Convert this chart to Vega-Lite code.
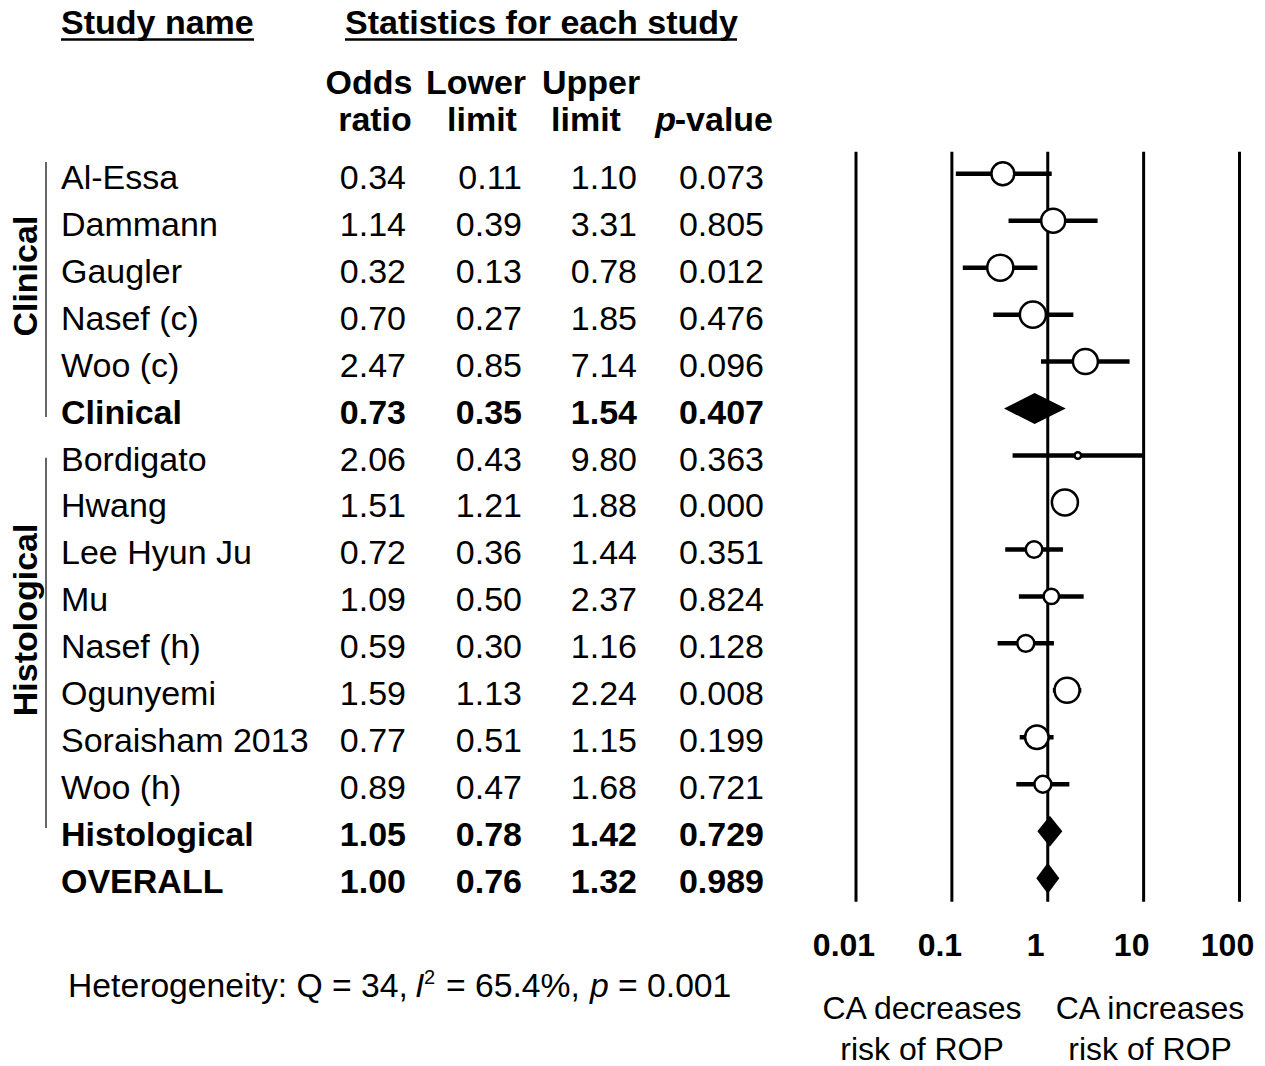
{
  "$schema": "https://vega.github.io/schema/vega-lite/v6.json",
  "width": 1265,
  "height": 1066,
  "autosize": "none",
  "padding": 0,
  "background": "white",
  "config": {"view": {"stroke": null}, "font": "Liberation Sans", "text": {"font": "Liberation Sans", "color": "black"}},
  "datasets": {
    "studies": [
      {"row": 1, "name": "Al-Essa", "group": "Clinical", "type": "study", "or": 0.34, "lo": 0.11, "hi": 1.10, "p": 0.073, "weight": 8.6},
      {"row": 2, "name": "Dammann", "group": "Clinical", "type": "study", "or": 1.14, "lo": 0.39, "hi": 3.31, "p": 0.805, "weight": 9.5},
      {"row": 3, "name": "Gaugler", "group": "Clinical", "type": "study", "or": 0.32, "lo": 0.13, "hi": 0.78, "p": 0.012, "weight": 11.2},
      {"row": 4, "name": "Nasef (c)", "group": "Clinical", "type": "study", "or": 0.70, "lo": 0.27, "hi": 1.85, "p": 0.476, "weight": 11.2},
      {"row": 5, "name": "Woo (c)", "group": "Clinical", "type": "study", "or": 2.47, "lo": 0.85, "hi": 7.14, "p": 0.096, "weight": 10.3},
      {"row": 6, "name": "Clinical", "group": "Clinical", "type": "subtotal", "or": 0.73, "lo": 0.35, "hi": 1.54, "p": 0.407},
      {"row": 7, "name": "Bordigato", "group": "Histological", "type": "study", "or": 2.06, "lo": 0.43, "hi": 9.80, "p": 0.363, "weight": 0.7},
      {"row": 8, "name": "Hwang", "group": "Histological", "type": "study", "or": 1.51, "lo": 1.21, "hi": 1.88, "p": 0.000, "weight": 11.2},
      {"row": 9, "name": "Lee Hyun Ju", "group": "Histological", "type": "study", "or": 0.72, "lo": 0.36, "hi": 1.44, "p": 0.351, "weight": 4.5},
      {"row": 10, "name": "Mu", "group": "Histological", "type": "study", "or": 1.09, "lo": 0.50, "hi": 2.37, "p": 0.824, "weight": 3.9},
      {"row": 11, "name": "Nasef (h)", "group": "Histological", "type": "study", "or": 0.59, "lo": 0.30, "hi": 1.16, "p": 0.128, "weight": 4.7},
      {"row": 12, "name": "Ogunyemi", "group": "Histological", "type": "study", "or": 1.59, "lo": 1.13, "hi": 2.24, "p": 0.008, "weight": 10.3},
      {"row": 13, "name": "Soraisham 2013", "group": "Histological", "type": "study", "or": 0.77, "lo": 0.51, "hi": 1.15, "p": 0.199, "weight": 9.1},
      {"row": 14, "name": "Woo (h)", "group": "Histological", "type": "study", "or": 0.89, "lo": 0.47, "hi": 1.68, "p": 0.721, "weight": 4.7},
      {"row": 15, "name": "Histological", "group": "Histological", "type": "subtotal", "or": 1.05, "lo": 0.78, "hi": 1.42, "p": 0.729},
      {"row": 16, "name": "OVERALL", "group": "All", "type": "overall", "or": 1.00, "lo": 0.76, "hi": 1.32, "p": 0.989}
    ],
    "ticks": [
      {"value": 0.01, "label": "0.01"},
      {"value": 0.1, "label": "0.1"},
      {"value": 1, "label": "1"},
      {"value": 10, "label": "10"},
      {"value": 100, "label": "100"}
    ]
  },
  "resolve": {"scale": {"x": "independent"}},
  "layer": [
    {
      "layer": [
        {
          "data": {"name": "studies"},
          "transform": [{"filter": "datum.type === 'study'"}],
          "mark": {"type": "text", "align": "left", "baseline": "middle", "dy": 5, "fontSize": 34},
          "encoding": {
            "x": {"datum": 61, "type": "quantitative", "scale": {"type": "linear", "domain": [0, 1265], "range": [0, 1265], "nice": false, "zero": false}, "axis": null},
            "y": {"field": "row", "type": "quantitative", "scale": {"domain": [-2.7, 20], "range": [0, 1066], "nice": false, "zero": false}, "axis": null},
            "text": {"field": "name"}
          }
        },
        {
          "data": {"name": "studies"},
          "transform": [{"filter": "datum.type === 'study'"}],
          "mark": {"type": "text", "align": "right", "baseline": "middle", "dy": 5, "fontSize": 34},
          "encoding": {
            "x": {"datum": 406, "type": "quantitative", "scale": {"type": "linear", "domain": [0, 1265], "range": [0, 1265], "nice": false, "zero": false}, "axis": null},
            "y": {"field": "row", "type": "quantitative", "scale": {"domain": [-2.7, 20], "range": [0, 1066], "nice": false, "zero": false}, "axis": null},
            "text": {"field": "or", "format": ".2f"}
          }
        },
        {
          "data": {"name": "studies"},
          "transform": [{"filter": "datum.type === 'study'"}],
          "mark": {"type": "text", "align": "right", "baseline": "middle", "dy": 5, "fontSize": 34},
          "encoding": {
            "x": {"datum": 522, "type": "quantitative", "scale": {"type": "linear", "domain": [0, 1265], "range": [0, 1265], "nice": false, "zero": false}, "axis": null},
            "y": {"field": "row", "type": "quantitative", "scale": {"domain": [-2.7, 20], "range": [0, 1066], "nice": false, "zero": false}, "axis": null},
            "text": {"field": "lo", "format": ".2f"}
          }
        },
        {
          "data": {"name": "studies"},
          "transform": [{"filter": "datum.type === 'study'"}],
          "mark": {"type": "text", "align": "right", "baseline": "middle", "dy": 5, "fontSize": 34},
          "encoding": {
            "x": {"datum": 637, "type": "quantitative", "scale": {"type": "linear", "domain": [0, 1265], "range": [0, 1265], "nice": false, "zero": false}, "axis": null},
            "y": {"field": "row", "type": "quantitative", "scale": {"domain": [-2.7, 20], "range": [0, 1066], "nice": false, "zero": false}, "axis": null},
            "text": {"field": "hi", "format": ".2f"}
          }
        },
        {
          "data": {"name": "studies"},
          "transform": [{"filter": "datum.type === 'study'"}],
          "mark": {"type": "text", "align": "right", "baseline": "middle", "dy": 5, "fontSize": 34},
          "encoding": {
            "x": {"datum": 764, "type": "quantitative", "scale": {"type": "linear", "domain": [0, 1265], "range": [0, 1265], "nice": false, "zero": false}, "axis": null},
            "y": {"field": "row", "type": "quantitative", "scale": {"domain": [-2.7, 20], "range": [0, 1066], "nice": false, "zero": false}, "axis": null},
            "text": {"field": "p", "format": ".3f"}
          }
        },
        {
          "data": {"name": "studies"},
          "transform": [{"filter": "datum.type !== 'study'"}],
          "mark": {"type": "text", "align": "left", "baseline": "middle", "dy": 5, "fontSize": 34, "fontWeight": "bold"},
          "encoding": {
            "x": {"datum": 61, "type": "quantitative", "scale": {"type": "linear", "domain": [0, 1265], "range": [0, 1265], "nice": false, "zero": false}, "axis": null},
            "y": {"field": "row", "type": "quantitative", "scale": {"domain": [-2.7, 20], "range": [0, 1066], "nice": false, "zero": false}, "axis": null},
            "text": {"field": "name"}
          }
        },
        {
          "data": {"name": "studies"},
          "transform": [{"filter": "datum.type !== 'study'"}],
          "mark": {"type": "text", "align": "right", "baseline": "middle", "dy": 5, "fontSize": 34, "fontWeight": "bold"},
          "encoding": {
            "x": {"datum": 406, "type": "quantitative", "scale": {"type": "linear", "domain": [0, 1265], "range": [0, 1265], "nice": false, "zero": false}, "axis": null},
            "y": {"field": "row", "type": "quantitative", "scale": {"domain": [-2.7, 20], "range": [0, 1066], "nice": false, "zero": false}, "axis": null},
            "text": {"field": "or", "format": ".2f"}
          }
        },
        {
          "data": {"name": "studies"},
          "transform": [{"filter": "datum.type !== 'study'"}],
          "mark": {"type": "text", "align": "right", "baseline": "middle", "dy": 5, "fontSize": 34, "fontWeight": "bold"},
          "encoding": {
            "x": {"datum": 522, "type": "quantitative", "scale": {"type": "linear", "domain": [0, 1265], "range": [0, 1265], "nice": false, "zero": false}, "axis": null},
            "y": {"field": "row", "type": "quantitative", "scale": {"domain": [-2.7, 20], "range": [0, 1066], "nice": false, "zero": false}, "axis": null},
            "text": {"field": "lo", "format": ".2f"}
          }
        },
        {
          "data": {"name": "studies"},
          "transform": [{"filter": "datum.type !== 'study'"}],
          "mark": {"type": "text", "align": "right", "baseline": "middle", "dy": 5, "fontSize": 34, "fontWeight": "bold"},
          "encoding": {
            "x": {"datum": 637, "type": "quantitative", "scale": {"type": "linear", "domain": [0, 1265], "range": [0, 1265], "nice": false, "zero": false}, "axis": null},
            "y": {"field": "row", "type": "quantitative", "scale": {"domain": [-2.7, 20], "range": [0, 1066], "nice": false, "zero": false}, "axis": null},
            "text": {"field": "hi", "format": ".2f"}
          }
        },
        {
          "data": {"name": "studies"},
          "transform": [{"filter": "datum.type !== 'study'"}],
          "mark": {"type": "text", "align": "right", "baseline": "middle", "dy": 5, "fontSize": 34, "fontWeight": "bold"},
          "encoding": {
            "x": {"datum": 764, "type": "quantitative", "scale": {"type": "linear", "domain": [0, 1265], "range": [0, 1265], "nice": false, "zero": false}, "axis": null},
            "y": {"field": "row", "type": "quantitative", "scale": {"domain": [-2.7, 20], "range": [0, 1066], "nice": false, "zero": false}, "axis": null},
            "text": {"field": "p", "format": ".3f"}
          }
        },
        {
          "data": {"values": [{}]},
          "mark": {"type": "text", "text": "Study name", "align": "left", "baseline": "middle", "fontSize": 34, "fontWeight": "bold"},
          "encoding": {
            "x": {"datum": 61, "type": "quantitative", "scale": {"type": "linear", "domain": [0, 1265], "range": [0, 1265], "nice": false, "zero": false}, "axis": null},
            "y": {"datum": -2.19, "type": "quantitative", "scale": {"domain": [-2.7, 20], "range": [0, 1066], "nice": false, "zero": false}, "axis": null}
          }
        },
        {
          "data": {"values": [{}]},
          "mark": {"type": "text", "text": "Statistics for each study", "align": "left", "baseline": "middle", "fontSize": 34, "fontWeight": "bold"},
          "encoding": {
            "x": {"datum": 345, "type": "quantitative", "scale": {"type": "linear", "domain": [0, 1265], "range": [0, 1265], "nice": false, "zero": false}, "axis": null},
            "y": {"datum": -2.19, "type": "quantitative", "scale": {"domain": [-2.7, 20], "range": [0, 1066], "nice": false, "zero": false}, "axis": null}
          }
        },
        {
          "data": {"values": [{}]},
          "mark": {"type": "rule", "strokeWidth": 2.5, "color": "black"},
          "encoding": {
            "x": {"datum": 61, "type": "quantitative", "scale": {"type": "linear", "domain": [0, 1265], "range": [0, 1265], "nice": false, "zero": false}, "axis": null},
            "x2": {"datum": 254},
            "y": {"datum": -1.86, "type": "quantitative", "scale": {"domain": [-2.7, 20], "range": [0, 1066], "nice": false, "zero": false}, "axis": null}
          }
        },
        {
          "data": {"values": [{}]},
          "mark": {"type": "rule", "strokeWidth": 2.5, "color": "black"},
          "encoding": {
            "x": {"datum": 345, "type": "quantitative", "scale": {"type": "linear", "domain": [0, 1265], "range": [0, 1265], "nice": false, "zero": false}, "axis": null},
            "x2": {"datum": 737},
            "y": {"datum": -1.86, "type": "quantitative", "scale": {"domain": [-2.7, 20], "range": [0, 1066], "nice": false, "zero": false}, "axis": null}
          }
        },
        {
          "data": {"values": [{}]},
          "mark": {"type": "text", "text": "Odds", "align": "center", "baseline": "middle", "fontSize": 34, "fontWeight": "bold"},
          "encoding": {
            "x": {"datum": 369, "type": "quantitative", "scale": {"type": "linear", "domain": [0, 1265], "range": [0, 1265], "nice": false, "zero": false}, "axis": null},
            "y": {"datum": -0.91, "type": "quantitative", "scale": {"domain": [-2.7, 20], "range": [0, 1066], "nice": false, "zero": false}, "axis": null}
          }
        },
        {
          "data": {"values": [{}]},
          "mark": {"type": "text", "text": "ratio", "align": "center", "baseline": "middle", "fontSize": 34, "fontWeight": "bold"},
          "encoding": {
            "x": {"datum": 375, "type": "quantitative", "scale": {"type": "linear", "domain": [0, 1265], "range": [0, 1265], "nice": false, "zero": false}, "axis": null},
            "y": {"datum": -0.12, "type": "quantitative", "scale": {"domain": [-2.7, 20], "range": [0, 1066], "nice": false, "zero": false}, "axis": null}
          }
        },
        {
          "data": {"values": [{}]},
          "mark": {"type": "text", "text": "Lower", "align": "center", "baseline": "middle", "fontSize": 34, "fontWeight": "bold"},
          "encoding": {
            "x": {"datum": 476, "type": "quantitative", "scale": {"type": "linear", "domain": [0, 1265], "range": [0, 1265], "nice": false, "zero": false}, "axis": null},
            "y": {"datum": -0.91, "type": "quantitative", "scale": {"domain": [-2.7, 20], "range": [0, 1066], "nice": false, "zero": false}, "axis": null}
          }
        },
        {
          "data": {"values": [{}]},
          "mark": {"type": "text", "text": "limit", "align": "center", "baseline": "middle", "fontSize": 34, "fontWeight": "bold"},
          "encoding": {
            "x": {"datum": 482, "type": "quantitative", "scale": {"type": "linear", "domain": [0, 1265], "range": [0, 1265], "nice": false, "zero": false}, "axis": null},
            "y": {"datum": -0.12, "type": "quantitative", "scale": {"domain": [-2.7, 20], "range": [0, 1066], "nice": false, "zero": false}, "axis": null}
          }
        },
        {
          "data": {"values": [{}]},
          "mark": {"type": "text", "text": "Upper", "align": "center", "baseline": "middle", "fontSize": 34, "fontWeight": "bold"},
          "encoding": {
            "x": {"datum": 591, "type": "quantitative", "scale": {"type": "linear", "domain": [0, 1265], "range": [0, 1265], "nice": false, "zero": false}, "axis": null},
            "y": {"datum": -0.91, "type": "quantitative", "scale": {"domain": [-2.7, 20], "range": [0, 1066], "nice": false, "zero": false}, "axis": null}
          }
        },
        {
          "data": {"values": [{}]},
          "mark": {"type": "text", "text": "limit", "align": "center", "baseline": "middle", "fontSize": 34, "fontWeight": "bold"},
          "encoding": {
            "x": {"datum": 586, "type": "quantitative", "scale": {"type": "linear", "domain": [0, 1265], "range": [0, 1265], "nice": false, "zero": false}, "axis": null},
            "y": {"datum": -0.12, "type": "quantitative", "scale": {"domain": [-2.7, 20], "range": [0, 1066], "nice": false, "zero": false}, "axis": null}
          }
        },
        {
          "data": {"values": [{}]},
          "mark": {"type": "text", "text": "p", "align": "right", "baseline": "middle", "fontSize": 34, "fontWeight": "bold", "fontStyle": "italic"},
          "encoding": {
            "x": {"datum": 676, "type": "quantitative", "scale": {"type": "linear", "domain": [0, 1265], "range": [0, 1265], "nice": false, "zero": false}, "axis": null},
            "y": {"datum": -0.12, "type": "quantitative", "scale": {"domain": [-2.7, 20], "range": [0, 1066], "nice": false, "zero": false}, "axis": null}
          }
        },
        {
          "data": {"values": [{}]},
          "mark": {"type": "text", "text": "-value", "align": "right", "baseline": "middle", "fontSize": 34, "fontWeight": "bold"},
          "encoding": {
            "x": {"datum": 773, "type": "quantitative", "scale": {"type": "linear", "domain": [0, 1265], "range": [0, 1265], "nice": false, "zero": false}, "axis": null},
            "y": {"datum": -0.12, "type": "quantitative", "scale": {"domain": [-2.7, 20], "range": [0, 1066], "nice": false, "zero": false}, "axis": null}
          }
        },
        {
          "data": {"values": [{}]},
          "mark": {"type": "text", "text": "Clinical", "align": "center", "baseline": "middle", "angle": 270, "fontSize": 34, "fontWeight": "bold"},
          "encoding": {
            "x": {"datum": 27, "type": "quantitative", "scale": {"type": "linear", "domain": [0, 1265], "range": [0, 1265], "nice": false, "zero": false}, "axis": null},
            "y": {"datum": 3.18, "type": "quantitative", "scale": {"domain": [-2.7, 20], "range": [0, 1066], "nice": false, "zero": false}, "axis": null}
          }
        },
        {
          "data": {"values": [{}]},
          "mark": {"type": "text", "text": "Histological", "align": "center", "baseline": "middle", "angle": 270, "fontSize": 34, "fontWeight": "bold"},
          "encoding": {
            "x": {"datum": 27, "type": "quantitative", "scale": {"type": "linear", "domain": [0, 1265], "range": [0, 1265], "nice": false, "zero": false}, "axis": null},
            "y": {"datum": 10.5, "type": "quantitative", "scale": {"domain": [-2.7, 20], "range": [0, 1066], "nice": false, "zero": false}, "axis": null}
          }
        },
        {
          "data": {"values": [{}]},
          "mark": {"type": "rule", "strokeWidth": 1.5, "color": "#333333"},
          "encoding": {
            "x": {"datum": 46, "type": "quantitative", "scale": {"type": "linear", "domain": [0, 1265], "range": [0, 1265], "nice": false, "zero": false}, "axis": null},
            "y": {"datum": 0.75, "type": "quantitative", "scale": {"domain": [-2.7, 20], "range": [0, 1066], "nice": false, "zero": false}, "axis": null},
            "y2": {"datum": 6.18}
          }
        },
        {
          "data": {"values": [{}]},
          "mark": {"type": "rule", "strokeWidth": 1.5, "color": "#333333"},
          "encoding": {
            "x": {"datum": 46, "type": "quantitative", "scale": {"type": "linear", "domain": [0, 1265], "range": [0, 1265], "nice": false, "zero": false}, "axis": null},
            "y": {"datum": 7.05, "type": "quantitative", "scale": {"domain": [-2.7, 20], "range": [0, 1066], "nice": false, "zero": false}, "axis": null},
            "y2": {"datum": 14.93}
          }
        },
        {
          "data": {"values": [{}]},
          "mark": {"type": "text", "text": "Heterogeneity: Q = 34,", "align": "left", "baseline": "middle", "fontSize": 33.7},
          "encoding": {
            "x": {"datum": 68, "type": "quantitative", "scale": {"type": "linear", "domain": [0, 1265], "range": [0, 1265], "nice": false, "zero": false}, "axis": null},
            "y": {"datum": 18.32, "type": "quantitative", "scale": {"domain": [-2.7, 20], "range": [0, 1066], "nice": false, "zero": false}, "axis": null}
          }
        },
        {
          "data": {"values": [{}]},
          "mark": {"type": "text", "text": "I", "align": "left", "baseline": "middle", "fontSize": 33.7, "fontStyle": "italic"},
          "encoding": {
            "x": {"datum": 415, "type": "quantitative", "scale": {"type": "linear", "domain": [0, 1265], "range": [0, 1265], "nice": false, "zero": false}, "axis": null},
            "y": {"datum": 18.32, "type": "quantitative", "scale": {"domain": [-2.7, 20], "range": [0, 1066], "nice": false, "zero": false}, "axis": null}
          }
        },
        {
          "data": {"values": [{}]},
          "mark": {"type": "text", "text": "2", "align": "left", "baseline": "middle", "fontSize": 20, "dy": -9},
          "encoding": {
            "x": {"datum": 424, "type": "quantitative", "scale": {"type": "linear", "domain": [0, 1265], "range": [0, 1265], "nice": false, "zero": false}, "axis": null},
            "y": {"datum": 18.32, "type": "quantitative", "scale": {"domain": [-2.7, 20], "range": [0, 1066], "nice": false, "zero": false}, "axis": null}
          }
        },
        {
          "data": {"values": [{}]},
          "mark": {"type": "text", "text": "= 65.4%,", "align": "left", "baseline": "middle", "fontSize": 33.7},
          "encoding": {
            "x": {"datum": 446, "type": "quantitative", "scale": {"type": "linear", "domain": [0, 1265], "range": [0, 1265], "nice": false, "zero": false}, "axis": null},
            "y": {"datum": 18.32, "type": "quantitative", "scale": {"domain": [-2.7, 20], "range": [0, 1066], "nice": false, "zero": false}, "axis": null}
          }
        },
        {
          "data": {"values": [{}]},
          "mark": {"type": "text", "text": "p", "align": "left", "baseline": "middle", "fontSize": 33.7, "fontStyle": "italic"},
          "encoding": {
            "x": {"datum": 590, "type": "quantitative", "scale": {"type": "linear", "domain": [0, 1265], "range": [0, 1265], "nice": false, "zero": false}, "axis": null},
            "y": {"datum": 18.32, "type": "quantitative", "scale": {"domain": [-2.7, 20], "range": [0, 1066], "nice": false, "zero": false}, "axis": null}
          }
        },
        {
          "data": {"values": [{}]},
          "mark": {"type": "text", "text": "= 0.001", "align": "left", "baseline": "middle", "fontSize": 33.7},
          "encoding": {
            "x": {"datum": 618, "type": "quantitative", "scale": {"type": "linear", "domain": [0, 1265], "range": [0, 1265], "nice": false, "zero": false}, "axis": null},
            "y": {"datum": 18.32, "type": "quantitative", "scale": {"domain": [-2.7, 20], "range": [0, 1066], "nice": false, "zero": false}, "axis": null}
          }
        },
        {
          "data": {"values": [{}]},
          "mark": {"type": "text", "text": ["CA decreases", "risk of ROP"], "align": "center", "baseline": "alphabetic", "lineHeight": 41, "fontSize": 32},
          "encoding": {
            "x": {"datum": 922, "type": "quantitative", "scale": {"type": "linear", "domain": [0, 1265], "range": [0, 1265], "nice": false, "zero": false}, "axis": null},
            "y": {"datum": 19.0, "type": "quantitative", "scale": {"domain": [-2.7, 20], "range": [0, 1066], "nice": false, "zero": false}, "axis": null}
          }
        },
        {
          "data": {"values": [{}]},
          "mark": {"type": "text", "text": ["CA increases", "risk of ROP"], "align": "center", "baseline": "alphabetic", "lineHeight": 41, "fontSize": 32},
          "encoding": {
            "x": {"datum": 1150, "type": "quantitative", "scale": {"type": "linear", "domain": [0, 1265], "range": [0, 1265], "nice": false, "zero": false}, "axis": null},
            "y": {"datum": 19.0, "type": "quantitative", "scale": {"domain": [-2.7, 20], "range": [0, 1066], "nice": false, "zero": false}, "axis": null}
          }
        }
      ]
    },
    {
      "layer": [
        {
          "data": {"name": "ticks"},
          "mark": {"type": "rule", "strokeWidth": 3, "color": "black"},
          "encoding": {
            "x": {"field": "value", "type": "quantitative", "scale": {"type": "log", "domain": [0.01, 100], "range": [856, 1239.5], "nice": false}, "axis": null},
            "y": {"datum": 0.53, "type": "quantitative", "scale": {"domain": [-2.7, 20], "range": [0, 1066], "nice": false, "zero": false}, "axis": null},
            "y2": {"datum": 16.5}
          }
        },
        {
          "data": {"name": "ticks"},
          "mark": {"type": "text", "align": "center", "baseline": "middle", "dx": -12, "fontSize": 32, "fontWeight": "bold"},
          "encoding": {
            "x": {"field": "value", "type": "quantitative", "scale": {"type": "log", "domain": [0.01, 100], "range": [856, 1239.5], "nice": false}, "axis": null},
            "y": {"datum": 17.45, "type": "quantitative", "scale": {"domain": [-2.7, 20], "range": [0, 1066], "nice": false, "zero": false}, "axis": null},
            "text": {"field": "label"}
          }
        },
        {
          "data": {"name": "studies"},
          "transform": [{"filter": "datum.type === 'study'"}],
          "mark": {"type": "rule", "strokeWidth": 4.5, "color": "black"},
          "encoding": {
            "x": {"field": "lo", "type": "quantitative", "scale": {"type": "log", "domain": [0.01, 100], "range": [856, 1239.5], "nice": false}, "axis": null},
            "x2": {"field": "hi"},
            "y": {"field": "row", "type": "quantitative", "scale": {"domain": [-2.7, 20], "range": [0, 1066], "nice": false, "zero": false}, "axis": null}
          }
        },
        {
          "data": {"name": "studies"},
          "transform": [{"filter": "datum.type === 'study'"}],
          "mark": {"type": "point", "shape": "circle", "fill": "white", "fillOpacity": 1, "stroke": "black", "strokeWidth": 2.5, "opacity": 1},
          "encoding": {
            "x": {"field": "or", "type": "quantitative", "scale": {"type": "log", "domain": [0.01, 100], "range": [856, 1239.5], "nice": false}, "axis": null},
            "y": {"field": "row", "type": "quantitative", "scale": {"domain": [-2.7, 20], "range": [0, 1066], "nice": false, "zero": false}, "axis": null},
            "size": {"field": "weight", "type": "quantitative", "scale": {"type": "linear", "domain": [0, 11.2], "range": [0, 680], "zero": true}, "legend": null}
          }
        },
        {
          "data": {"name": "studies"},
          "transform": [{"filter": "datum.type !== 'study'"}, {"fold": ["lo", "or", "hi"], "as": ["key", "val"]}],
          "mark": {"type": "area", "color": "black", "opacity": 1, "yOffset": {"expr": "datum.key === 'or' ? -15.5 : 0"}, "y2Offset": {"expr": "datum.key === 'or' ? 15.5 : 0"}},
          "encoding": {
            "x": {"field": "val", "type": "quantitative", "scale": {"type": "log", "domain": [0.01, 100], "range": [856, 1239.5], "nice": false}, "axis": null},
            "y": {"field": "row", "type": "quantitative", "scale": {"domain": [-2.7, 20], "range": [0, 1066], "nice": false, "zero": false}, "axis": null},
            "y2": {"field": "row"},
            "detail": {"field": "name", "type": "nominal"}
          }
        }
      ]
    }
  ]
}
